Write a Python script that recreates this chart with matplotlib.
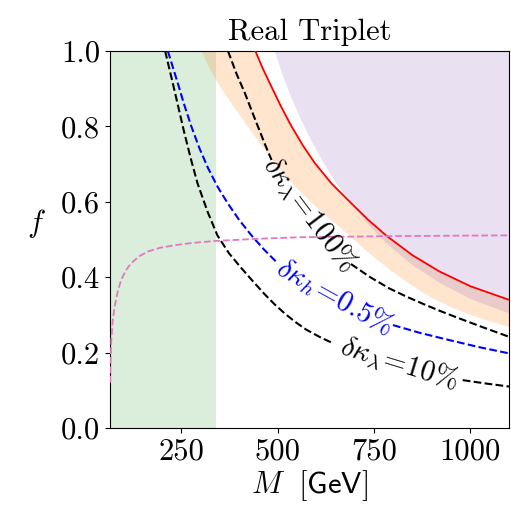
import matplotlib
matplotlib.use("Agg")
import matplotlib.pyplot as plt

plt.rcParams['font.family'] = 'serif'
plt.rcParams['font.serif'] = ['cmr10']
plt.rcParams['mathtext.fontset'] = 'cm'
plt.rcParams['axes.unicode_minus'] = False
plt.rcParams['axes.formatter.use_mathtext'] = True

# ---- data ----
# delta kappa_lambda = 10% contour (two pieces around the inline label)
kl10_M_a = [208, 218, 228, 243, 258, 275, 292, 318, 344, 374, 405, 435, 466, 492, 518, 546, 574, 608, 643]
kl10_f_a = [1.0, 0.957, 0.914, 0.848, 0.782, 0.713, 0.649, 0.574, 0.510, 0.463, 0.425, 0.390, 0.355, 0.328, 0.304, 0.281, 0.261, 0.242, 0.225]
kl10_M_b = [980, 1040, 1100]
kl10_f_b = [0.127, 0.118, 0.110]

# delta kappa_lambda = 100% contour
kl100_M_a = [371, 393, 415, 432, 449, 466, 484]
kl100_f_a = [1.0, 0.940, 0.888, 0.843, 0.799, 0.755, 0.711]
kl100_M_b = [690, 740, 790, 835, 880, 920, 960, 1030, 1100]
kl100_f_b = [0.435, 0.400, 0.370, 0.348, 0.328, 0.311, 0.295, 0.268, 0.242]

# delta kappa_h = 0.5% contour
kh_M_a = [215, 228, 241, 258, 276, 297, 319, 344, 371, 400, 431, 464, 497]
kh_f_a = [1.0, 0.957, 0.914, 0.856, 0.800, 0.742, 0.690, 0.640, 0.595, 0.552, 0.512, 0.474, 0.440]
kh_M_b = [799, 870, 946, 1020, 1100]
kh_f_b = [0.273, 0.252, 0.233, 0.215, 0.198]

# red solid bound
red_M = [442, 462, 484, 509, 536, 565, 596, 640, 687, 735, 782, 850, 920, 1000, 1100]
red_f = [1.0, 0.952, 0.905, 0.852, 0.800, 0.750, 0.703, 0.648, 0.600, 0.552, 0.510, 0.458, 0.415, 0.376, 0.340]

# orange band lower edge (upper edge = red bound)
orange_M = [302, 320, 341, 375, 410, 447, 484, 522, 560, 615, 670, 730, 790, 845, 898, 950, 1000, 1050, 1100]
orange_f = [1.0, 0.961, 0.921, 0.868, 0.818, 0.764, 0.713, 0.667, 0.625, 0.572, 0.525, 0.470, 0.420, 0.380, 0.346, 0.320, 0.300, 0.283, 0.268]

# purple excluded region lower edge
purple_M = [492, 510, 530, 555, 585, 618, 650, 690, 735, 782, 850, 920, 1000, 1100]
purple_f = [1.0, 0.945, 0.890, 0.830, 0.766, 0.705, 0.652, 0.595, 0.540, 0.490, 0.432, 0.385, 0.342, 0.304]

# pink dashed curve
pink_M = [65, 66.5, 68.4, 72, 77, 85, 94, 106, 120, 140, 163, 195, 233, 280, 336, 450, 557, 800, 1100]
pink_f = [0.12, 0.18, 0.233, 0.285, 0.322, 0.362, 0.393, 0.418, 0.437, 0.455, 0.468, 0.478, 0.485, 0.491, 0.496, 0.502, 0.506, 0.509, 0.511]

# green excluded band
green_M = [65, 341]

xlim = (65, 1100)
ylim = (0.0, 1.0)
xticks = [250, 500, 750, 1000]
yticks = [0.0, 0.2, 0.4, 0.6, 0.8, 1.0]

# ---- figure ----
fig = plt.figure(figsize=(5.11, 5.13), dpi=100)
ax = fig.add_axes([110/511, 1 - 428/513, 399/511, 377/513])

ax.axvspan(green_M[0], green_M[1], color='tab:green', alpha=0.17, lw=0, zorder=1)

# orange band polygon: lower edge, top at f=1, red upper edge reversed
ox = list(orange_M) + list(red_M[::-1])
oy = list(orange_f) + list(red_f[::-1])
ax.fill(ox, oy, color='tab:orange', alpha=0.2, lw=0, zorder=2)

# purple region: boundary up to f=1 and right edge
px = list(purple_M) + [purple_M[-1], purple_M[0]]
py = list(purple_f) + [1.0, 1.0]
ax.fill(px, py, color='tab:purple', alpha=0.2, lw=0, zorder=2)

ax.plot(red_M, red_f, color='red', lw=1.3, zorder=4)

dash = dict(ls='--', lw=1.5, zorder=5)
ax.plot(kl10_M_a, kl10_f_a, color='black', **dash)
ax.plot(kl10_M_b, kl10_f_b, color='black', **dash)
ax.plot(kl100_M_a, kl100_f_a, color='black', **dash)
ax.plot(kl100_M_b, kl100_f_b, color='black', **dash)
ax.plot(kh_M_a, kh_f_a, color='blue', **dash)
ax.plot(kh_M_b, kh_f_b, color='blue', **dash)
ax.plot(pink_M, pink_f, color='#e377c2', ls='--', lw=1.3, zorder=6)

lab_fs = 21
ax.text(580, 0.565, r'$\delta\kappa_\lambda\!=\!100\%$', rotation=-53, color='black',
        fontsize=lab_fs, ha='center', va='center', rotation_mode='anchor', zorder=7)
ax.text(648, 0.347, r'$\delta\kappa_h\!=\!0.5\%$', rotation=-29, color='blue',
        fontsize=lab_fs, ha='center', va='center', rotation_mode='anchor', zorder=7)
ax.text(815, 0.168, r'$\delta\kappa_\lambda\!=\!10\%$', rotation=-17, color='black',
        fontsize=lab_fs, ha='center', va='center', rotation_mode='anchor', zorder=7)

ax.set_xlim(*xlim)
ax.set_ylim(*ylim)
ax.set_xticks(xticks)
ax.set_yticks(yticks)
ax.set_xticklabels([str(t) for t in xticks])
ax.set_yticklabels(['%.1f' % t for t in yticks])
ax.tick_params(labelsize=22)
ax.set_title('Real Triplet', fontsize=22, pad=8)
ax.set_xlabel(r'$M\ \ \mathsf{[GeV]}$', fontsize=22, labelpad=2)
ax.set_ylabel(r'$f$', fontsize=22, rotation=0, labelpad=18)

fig.savefig('out.png', dpi=100)
